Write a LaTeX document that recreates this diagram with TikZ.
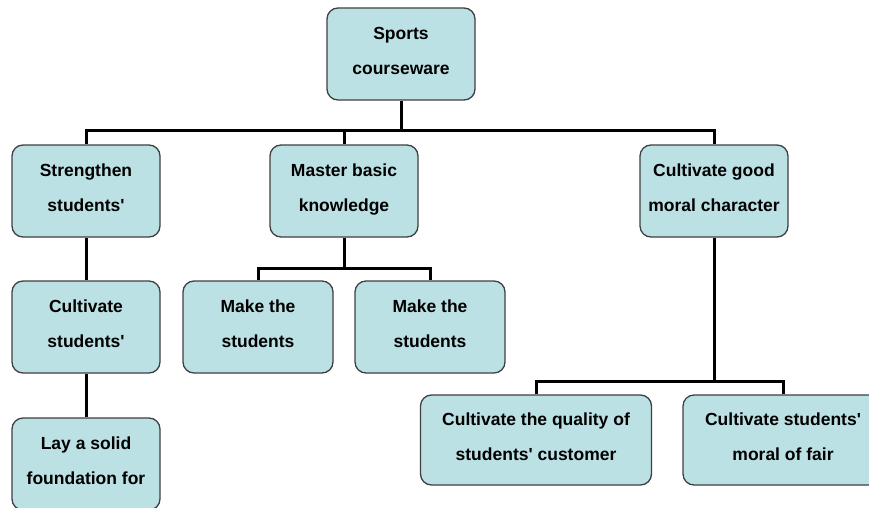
\documentclass[tikz,border=0pt]{standalone}
\usepackage{fontspec}
\setmainfont{Liberation Sans}
\definecolor{boxfill}{HTML}{BBE1E5}
\definecolor{boxline}{HTML}{404040}
\newcommand{\q}{\textquotesingle}
\begin{document}
\begin{tikzpicture}[x=1pt,y=-1pt,
  box/.style={rectangle, rounded corners=11pt, draw=boxline, fill=boxfill, line width=1.3pt,
    align=center, inner sep=0pt, minimum width=148pt, minimum height=92pt, text depth=6pt,
    font=\fontsize{17.5}{35}\selectfont\bfseries},
  conn/.style={line width=3pt, black}]
\useasboundingbox (0,0) rectangle (869,508);
\fill[white] (0,0) rectangle (869,508);
% nodes
\node[box] (top) at (401,54) {Sports\\courseware};
\node[box] (s1) at (86,191) {Strengthen\\students\q};
\node[box] (m)  at (344,191) {Master basic\\knowledge};
\node[box] (c)  at (714,191) {Cultivate good\\moral character};
\node[box] (cs) at (86,327) {Cultivate\\students\q};
\node[box] (lay) at (86,464) {Lay a solid\\foundation for};
\node[box, minimum width=150pt] (mk1) at (258,327) {Make the\\students};
\node[box, minimum width=150pt] (mk2) at (430,327) {Make the\\students};
\node[box, minimum width=231pt, minimum height=90pt] (q1) at (536,440) {Cultivate the quality of\\students\q{} customer};
\node[box, minimum width=200pt, minimum height=90pt] (q2) at (783,440) {Cultivate students\q\\moral of fair};
% junctions
\coordinate (j1) at (401,130);
\coordinate (j2) at (344,268);
\coordinate (j3) at (714,381);
% connectors
\draw[conn] (top.south) -- (j1);
\draw[conn] (j1) -| (s1.north);
\draw[conn] (j1) -| (m.north);
\draw[conn] (j1) -| (c.north);
\draw[conn] (s1.south) -- (cs.north);
\draw[conn] (cs.south) -- (lay.north);
\draw[conn] (m.south) -- (j2);
\draw[conn] (j2) -| (mk1.north);
\draw[conn] (j2) -| (mk2.north);
\draw[conn] (c.south) -- (j3);
\draw[conn] (j3) -| (q1.north);
\draw[conn] (j3) -| (q2.north);
\end{tikzpicture}
\end{document}
